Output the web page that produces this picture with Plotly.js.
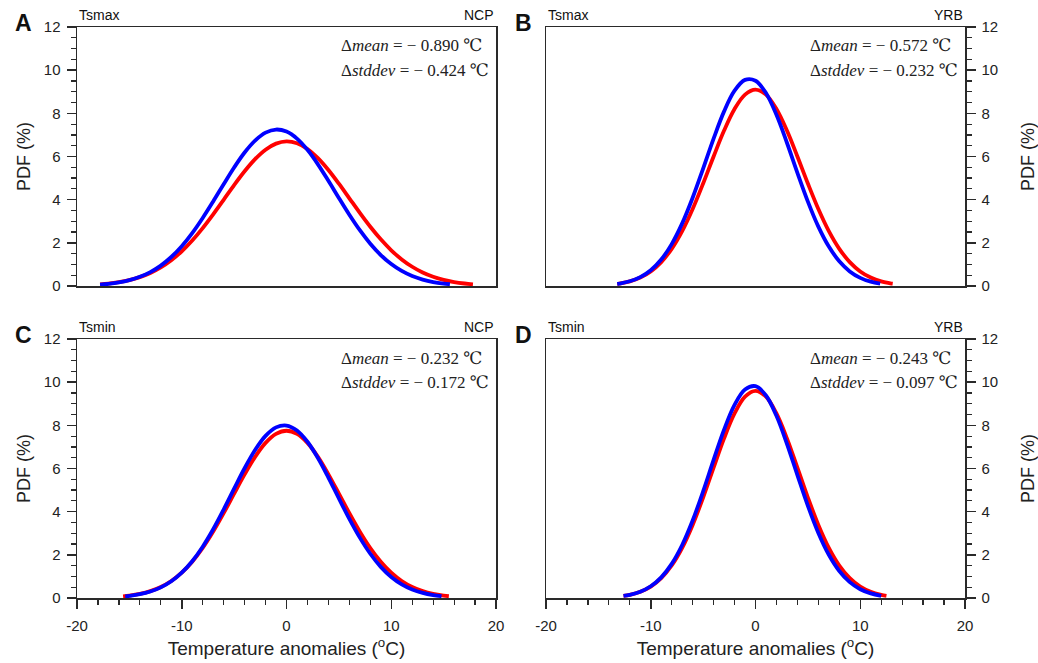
<!DOCTYPE html>
<html>
<head>
<meta charset="utf-8">
<script src="https://cdn.plot.ly/plotly-3.0.1.min.js"></script>
<style>html,body{margin:0;padding:0;background:#fff;}#chart{width:1038px;height:663px;}</style>
</head>
<body>
<div id="chart"></div>
<script>
// ---- Data ----
// Panel A: Tsmax, NCP
const xA_red  = [-17.8,-17,-16,-15,-14,-13,-12,-11,-10,-9,-8,-7,-6,-5,-4,-3,-2,-1,0,1,2,3,4,5,6,7,8,9,10,11,12,13,14,15,16,17,17.8];
const yA_red  = [0.078,0.110,0.176,0.273,0.412,0.605,0.862,1.194,1.608,2.107,2.683,3.320,3.995,4.674,5.314,5.875,6.313,6.596,6.700,6.615,6.350,5.925,5.375,4.740,4.064,3.387,2.744,2.161,1.655,1.232,0.892,0.627,0.429,0.285,0.184,0.116,0.078];
const xA_blue = [-17.8,-17,-16,-15,-14,-13,-12,-11,-10,-9,-8,-7,-6,-5,-4,-3,-2,-1,0,1,2,3,4,5,6,7,8,9,10,11,12,13,14,15,15.6];
const yA_blue = [0.065,0.100,0.167,0.271,0.425,0.645,0.946,1.344,1.845,2.452,3.152,3.919,4.716,5.492,6.186,6.740,7.107,7.249,7.153,6.830,6.309,5.638,4.875,4.078,3.300,2.584,1.958,1.435,1.017,0.698,0.463,0.298,0.185,0.111,0.081];

// Panel B: Tsmax, YRB
const xB_red  = [-13.2,-13,-12,-11,-10,-9,-8,-7,-6,-5,-4,-3,-2,-1,0,1,2,3,4,5,6,7,8,9,10,11,12,13,13.1];
const yB_red  = [0.098,0.112,0.215,0.391,0.675,1.107,1.722,2.543,3.567,4.748,6.001,7.201,8.201,8.866,9.100,8.866,8.201,7.201,6.001,4.748,3.567,2.543,1.722,1.107,0.675,0.391,0.215,0.112,0.105];
const xB_blue = [-13.2,-13,-12,-11,-10,-9,-8,-7,-6,-5,-4,-3,-2,-1,0,1,2,3,4,5,6,7,8,9,10,11,11.9];
const yB_blue = [0.095,0.110,0.219,0.411,0.732,1.226,1.942,2.900,4.089,5.439,6.829,8.091,9.048,9.549,9.510,8.939,7.930,6.637,5.243,3.910,2.751,1.827,1.145,0.677,0.378,0.199,0.106];

// Panel C: Tsmin, NCP
const xC_red  = [-15.6,-15,-14,-13,-12,-11,-10,-9,-8,-7,-6,-5,-4,-3,-2,-1,0,1,2,3,4,5,6,7,8,9,10,11,12,13,14,15,15.5];
const yC_red  = [0.079,0.111,0.192,0.319,0.512,0.790,1.174,1.681,2.317,3.075,3.929,4.836,5.730,6.539,7.187,7.605,7.750,7.605,7.187,6.539,5.730,4.836,3.929,3.075,2.317,1.681,1.174,0.790,0.512,0.319,0.192,0.111,0.083];
const xC_blue = [-15.4,-15,-14,-13,-12,-11,-10,-9,-8,-7,-6,-5,-4,-3,-2,-1,0,1,2,3,4,5,6,7,8,9,10,11,12,13,14,14.8];
const yC_blue = [0.078,0.100,0.177,0.301,0.494,0.777,1.174,1.705,2.376,3.183,4.097,5.063,6.012,6.856,7.511,7.905,7.992,7.760,7.238,6.486,5.583,4.616,3.666,2.797,2.050,1.443,0.976,0.634,0.395,0.237,0.136,0.085];

// Panel D: Tsmin, YRB
const xD_red  = [-12.6,-12,-11,-10,-9,-8,-7,-6,-5,-4,-3,-2,-1,0,1,2,3,4,5,6,7,8,9,10,11,12,12.5];
const yD_red  = [0.097,0.149,0.289,0.531,0.920,1.505,2.323,3.386,4.655,6.041,7.398,8.550,9.326,9.600,9.326,8.550,7.398,6.041,4.655,3.386,2.323,1.505,0.920,0.531,0.289,0.149,0.104];
const xD_blue = [-12.6,-12,-11,-10,-9,-8,-7,-6,-5,-4,-3,-2,-1,0,1,2,3,4,5,6,7,8,9,10,11,12];
const yD_blue = [0.095,0.148,0.292,0.545,0.956,1.580,2.455,3.590,4.941,6.399,7.800,8.948,9.659,9.813,9.382,8.441,7.147,5.695,4.271,3.015,2.002,1.251,0.736,0.407,0.212,0.104];

const panelLetters = ["A","B","C","D"];
const variables    = ["Tsmax","Tsmax","Tsmin","Tsmin"];
const regions      = ["NCP","YRB","NCP","YRB"];
const dMean        = ["0.890","0.572","0.232","0.243"];
const dStd         = ["0.424","0.232","0.172","0.097"];
const yTicks       = [0,2,4,6,8,10,12];
const xTicks       = [-20,-10,0,10,20];

// ---- Layout geometry (pixels) ----
const W = 1038, H = 663;
const cols = [[77,496],[546,965]];
const rows = [[27,286],[339,598]];
const letterX = [23, 523];
const px = v => v / W;
const py = v => 1 - v / H;

const RED = "#ff0000", BLUE = "#0000ff";
const AX = "#2a2a2a";
const FONT = "Liberation Sans, Arial, Helvetica, sans-serif";
const SERIF = "Liberation Serif, DejaVu Serif, serif";

const series = [
  [xA_red,yA_red,xA_blue,yA_blue],
  [xB_red,yB_red,xB_blue,yB_blue],
  [xC_red,yC_red,xC_blue,yC_blue],
  [xD_red,yD_red,xD_blue,yD_blue]
];

const data = [];
const layout = {
  width: W, height: H,
  margin: {l:0,r:0,t:0,b:0},
  paper_bgcolor: "#fff", plot_bgcolor: "#fff",
  showlegend: false,
  font: {family: FONT, color: "#222"},
  annotations: []
};

for (let i = 0; i < 4; i++) {
  const c = i % 2, r = Math.floor(i / 2);
  const sfx = i === 0 ? "" : String(i + 1);
  const xa = "x" + sfx, ya = "y" + sfx;
  const s = series[i];
  data.push({x: s[0], y: s[1], xaxis: xa, yaxis: ya, type: "scatter", mode: "lines",
             line: {color: RED, width: 3.8, shape: "spline", smoothing: 1}, hoverinfo: "skip"});
  data.push({x: s[2], y: s[3], xaxis: xa, yaxis: ya, type: "scatter", mode: "lines",
             line: {color: BLUE, width: 3.8, shape: "spline", smoothing: 1}, hoverinfo: "skip"});

  const bottom = r === 1;
  const xaxis = {
    domain: [px(cols[c][0]), px(cols[c][1])],
    anchor: ya, range: [-20, 20], tickvals: xTicks, ticktext: xTicks.map(String),
    showgrid: false, zeroline: false, showline: true, linecolor: AX, linewidth: 1.5, mirror: true,
    ticks: bottom ? "outside" : "", ticklen: 9, tickwidth: 1.5, tickcolor: AX,
    showticklabels: bottom, tickfont: {size: 15, color: "#222"}, ticklabelstandoff: 4,
    automargin: false
  };
  if (bottom) {
    xaxis.minor = {dtick: 2, ticks: "outside", ticklen: 5, tickwidth: 1.2, tickcolor: AX, showgrid: false};
    xaxis.title = {text: "Temperature anomalies (<sup>o</sup>C)", font: {size: 19, color: "#222"}, standoff: 9};
  }
  layout["xaxis" + sfx] = xaxis;
  layout["yaxis" + sfx] = {
    domain: [py(rows[r][1]), py(rows[r][0])],
    anchor: xa, range: [0, 12], tickvals: yTicks, ticktext: yTicks.map(String),
    side: c === 0 ? "left" : "right",
    showgrid: false, zeroline: false, showline: true, linecolor: AX, linewidth: 1.5, mirror: true,
    ticks: "outside", ticklen: 9, tickwidth: 1.5, tickcolor: AX,
    minor: {dtick: 0.5, ticks: "outside", ticklen: 5, tickwidth: 1.2, tickcolor: AX, showgrid: false},
    tickfont: {size: 15, color: "#222"}, ticklabelstandoff: 3,
    title: {text: "PDF (%)", font: {size: 18, color: "#222"}, standoff: c === 0 ? 8 : 28},
    automargin: false
  };

  const x0 = cols[c][0], x1 = cols[c][1], y0 = rows[r][0];
  layout.annotations.push(
    {xref: "paper", yref: "paper", x: px(letterX[c]), y: py(y0 - 4), xanchor: "center", yanchor: "middle",
     text: "<b>" + panelLetters[i] + "</b>", showarrow: false, font: {size: 23, color: "#111", family: FONT}},
    {xref: "paper", yref: "paper", x: px(x0), y: py(y0 - 2), xanchor: "left", yanchor: "bottom",
     text: variables[i], showarrow: false, font: {size: 14, color: "#111", family: FONT}},
    {xref: "paper", yref: "paper", x: px(x1), y: py(y0 - 2), xanchor: "right", yanchor: "bottom",
     text: regions[i], showarrow: false, font: {size: 14, color: "#111", family: FONT}},
    {xref: "paper", yref: "paper", x: px(x0 + 262), y: py(y0 + 19), xanchor: "left", yanchor: "middle",
     text: "\u0394<i>mean</i> = \u2212 " + dMean[i] + " \u2103", showarrow: false,
     font: {size: 17, color: "#222", family: SERIF}},
    {xref: "paper", yref: "paper", x: px(x0 + 262), y: py(y0 + 44), xanchor: "left", yanchor: "middle",
     text: "\u0394<i>stddev</i> = \u2212 " + dStd[i] + " \u2103", showarrow: false,
     font: {size: 17, color: "#222", family: SERIF}}
  );
}

Plotly.newPlot("chart", data, layout, {staticPlot: true, displayModeBar: false});
</script>
</body>
</html>
